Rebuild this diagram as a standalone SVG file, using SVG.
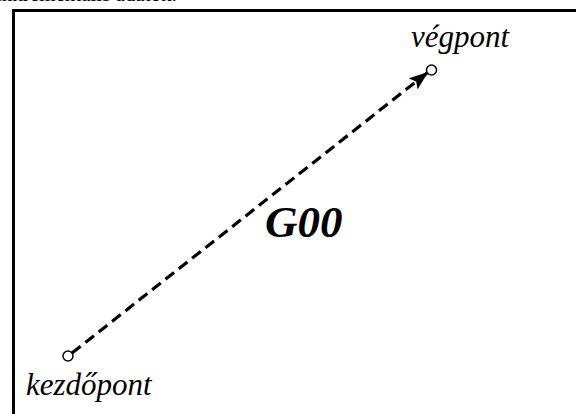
<svg xmlns="http://www.w3.org/2000/svg" width="576" height="414" viewBox="0 0 576 414">
<style>
.lbl{font-family:"Liberation Serif","Times New Roman",serif;font-style:italic;fill:#000}
.pt{fill:#fff;stroke:#000;stroke-width:1.5}
</style>
<defs>
<marker id="ah" markerWidth="6" markerHeight="4.4" refX="5.5" refY="2.2" orient="auto" markerUnits="strokeWidth">
<path d="M0,0 L6,2.2 L0,4.4 L1.2,2.2 Z" fill="#000"/>
</marker>
</defs>
<rect width="576" height="414" fill="#fff"/>
<text x="-4" y="1" style="font-family:'Liberation Serif',serif;font-size:21px">inkrementális adatok.</text>
<path d="M13.5,420 V10.5 H580" fill="none" stroke="#000" stroke-width="3"/>
<g id="connectors">
<line x1="72" y1="353" x2="427" y2="73" stroke="#000" stroke-width="3.2" stroke-dasharray="11,6" marker-end="url(#ah)"/>
</g>
<g id="start">
<circle class="pt" cx="68" cy="356" r="5"/>
<text class="lbl" x="26" y="395" font-size="31">kezdőpont</text>
</g>
<g id="end">
<circle class="pt" cx="431.5" cy="70" r="5"/>
<text class="lbl" x="411" y="47" font-size="31">végpont</text>
</g>
<g id="label">
<text class="lbl" x="265" y="237" font-size="45" font-weight="bold">G00</text>
</g>
</svg>
